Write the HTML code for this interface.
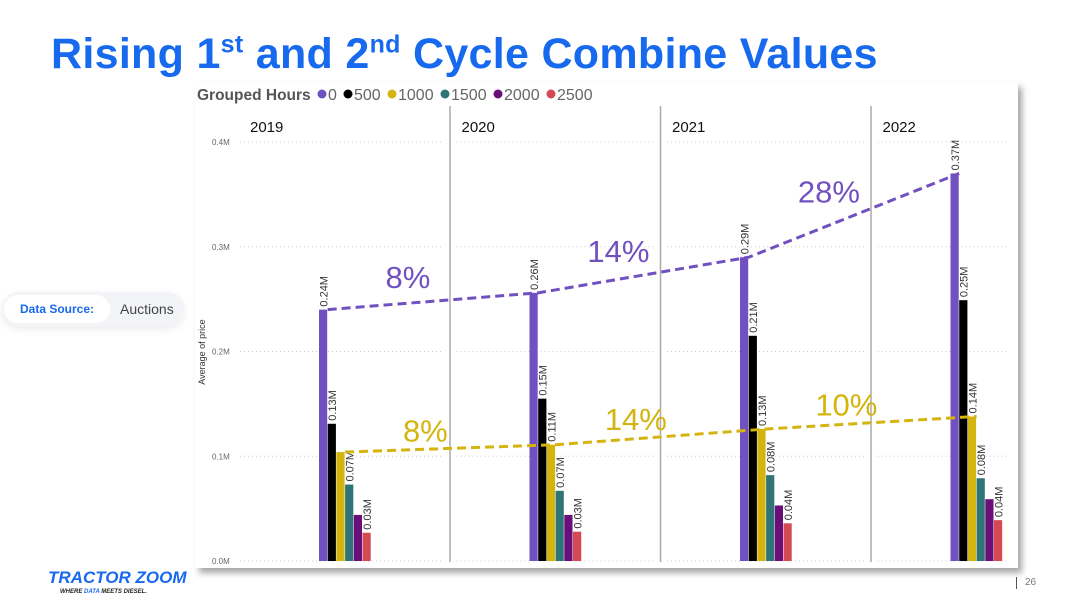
<!DOCTYPE html>
<html><head><meta charset="utf-8"><style>
body{margin:0;width:1076px;height:608px;background:#fff;overflow:hidden;font-family:"Liberation Sans",sans-serif;position:relative}
.abs{position:absolute}
</style></head><body>
<div class="abs" style="left:51px;top:30px;font-size:43px;font-weight:bold;color:#1769ee;white-space:nowrap;letter-spacing:0.3px">Rising 1<sup style="font-size:25px">st</sup> and 2<sup style="font-size:25px">nd</sup> Cycle Combine Values</div>
<div class="abs" style="left:2px;top:292px;width:182px;height:34px;border-radius:17px;background:#f3f4f7;box-shadow:0 3px 8px rgba(0,0,0,0.08)">
 <div class="abs" style="left:2px;top:3px;width:106px;height:28px;border-radius:14px;background:#fff;color:#1769ee;font-weight:bold;font-size:12px;line-height:28px;text-align:center">Data Source:</div>
 <div class="abs" style="left:118px;top:9px;font-size:14px;color:#444">Auctions</div>
</div>
<div class="abs" style="left:48px;top:568px;color:#1769ee;font-style:italic;font-weight:bold;font-size:17px;letter-spacing:0px">TRACTOR ZOOM</div>
<div class="abs" style="left:60px;top:589px;color:#222;font-style:italic;font-weight:bold;font-size:6px">WHERE <span style="color:#1769ee">DATA</span> MEETS DIESEL.</div>
<div class="abs" style="left:1016px;top:577px;border-left:1px solid #555;padding-left:8px;font-size:10px;color:#777;height:12px;line-height:12px">26</div>
<div class="abs" style="left:195px;top:82px;width:823px;height:486px;background:#fff;box-shadow:4px 5px 6px rgba(0,0,0,0.35)"></div>
<svg class="abs" style="left:0;top:0" width="1076" height="608" id="chart"></svg>
<script>
const years=["2019","2020","2021","2022"];
const seriesNames=["0","500","1000","1500","2000","2500"];
const colors=["#7151c0","#000000","#d4b40e","#2f7578","#6a0f7a","#d44a54"];
const v2019=[0.24,0.131,0.104,0.073,0.044,0.027];
const v2020=[0.256,0.155,0.111,0.067,0.044,0.028];
const v2021=[0.29,0.215,0.126,0.082,0.053,0.036];
const v2022=[0.37,0.249,0.138,0.079,0.059,0.039];
const labels2019=["0.24M","0.13M","","0.07M","","0.03M"];
const labels2020=["0.26M","0.15M","0.11M","0.07M","","0.03M"];
const labels2021=["0.29M","0.21M","0.13M","0.08M","","0.04M"];
const labels2022=["0.37M","0.25M","0.14M","0.08M","","0.04M"];
const yTicks=[0,0.1,0.2,0.3,0.4];
const yTickLabels=["0.0M","0.1M","0.2M","0.3M","0.4M"];
const purplePct=["8%","14%","28%"];
const yellowPct=["8%","14%","10%"];
const vals=[v2019,v2020,v2021,v2022];
const labs=[labels2019,labels2020,labels2021,labels2022];
const NS="http://www.w3.org/2000/svg";
const svg=document.getElementById('chart');
const y0=561,pxPer=1047.5;
const Y=v=>y0-v*pxPer;
const panelX=i=>240+i*210.5;
const barW=8.7;
const barX=(p,s)=>panelX(p)+79+s*barW;
function mk(t,a,txt){const e=document.createElementNS(NS,t);for(const k in a)e.setAttribute(k,a[k]);if(txt!==undefined)e.textContent=txt;svg.appendChild(e);return e;}
// legend
let lg=mk('text',{x:197,y:100,'font-size':15.5,'font-weight':'bold',fill:'#555'},'Grouped Hours');


let lx=322;
seriesNames.forEach((n,i)=>{
 const c=mk('circle',{cx:lx,cy:94,r:4.5,fill:colors[i]});
 
 
 const t=mk('text',{x:lx+6,y:100,'font-size':16,fill:'#666'},n);
 
 
 lx+=16+n.length*9+1;
});
// gridlines & ticks
yTicks.forEach((t,i)=>{
 for(let p=0;p<4;p++){
  const x1=p==0?panelX(0):panelX(p)+6;
  const x2=p==3?1008:panelX(p)+204;
  const g=mk('line',{x1:x1,x2:x2,y1:Y(t),y2:Y(t),stroke:'#ccc','stroke-dasharray':'1 3'});
  
  
 }
 const l=mk('text',{x:212,y:Y(t)+3,'font-size':8,fill:'#666'},yTickLabels[i]);
 
 
});
const yt=mk('text',{x:0,y:0,'font-size':9,fill:'#333','text-anchor':'middle',transform:'translate(205,352) rotate(-90)'},'Average of price');


// panels
years.forEach((yr,p)=>{
 if(p>0){const s=mk('line',{x1:panelX(p)-0.5,x2:panelX(p)-0.5,y1:106,y2:562,stroke:'#aaa','stroke-width':1.5});
  
  }
 const t=mk('text',{x:panelX(p)+(p==0?10:11),y:132,'font-size':15,fill:'#111'},yr);
 
 
 vals[p].forEach((v,s)=>{
  const r=mk('rect',{x:barX(p,s),y:Y(v),width:barW-0.5,height:v*pxPer,fill:colors[s]});
  
  
  const L=labs[p][s];
  if(L){const cx=barX(p,s)+barW/2+4,cy=Y(v)-3;
   const tl=mk('text',{x:0,y:0,'font-size':11,fill:'#333',transform:`translate(${cx},${cy}) rotate(-90)`},L);
   
   }
 });
});
// trend lines
function trend(si,col,pcts,name,dy){
 const pts=vals.map((v,p)=>[barX(p,si)+barW,Y(v[si])]);
 const pl=mk('polyline',{points:pts.map(q=>q.join(',')).join(' '),fill:'none',stroke:col,'stroke-width':3,'stroke-dasharray':'9 5'});
 
 
 pcts.forEach((t,i)=>{
  const mx=(pts[i][0]+pts[i+1][0])/2-25;
  const my=(pts[i][1]+pts[i+1][1])/2-dy;
  const tx=mk('text',{x:mx,y:my,'font-size':31,fill:col,'text-anchor':'middle'},t);
  
  
 });
}
trend(0,'#7151c0',purplePct,'purple',13);
trend(2,'#d4b40e',yellowPct,'yellow',7);
</script>
</body></html>
